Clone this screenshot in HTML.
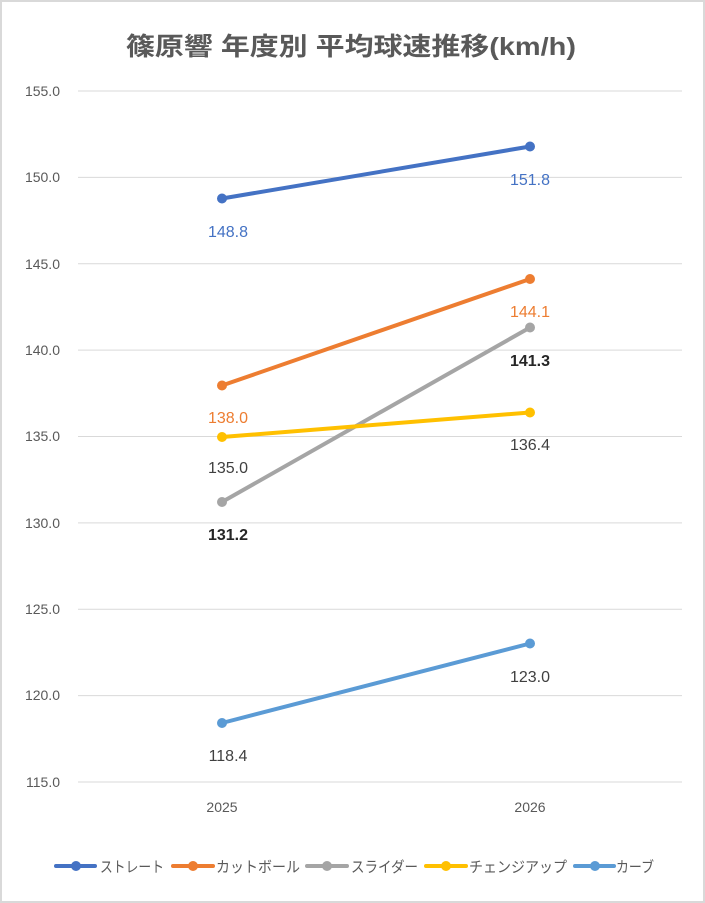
<!DOCTYPE html>
<html><head><meta charset="utf-8"><style>
html,body{margin:0;padding:0;background:#fff;}
svg{display:block;}
text{font-family:"Liberation Sans","Noto Sans CJK JP",sans-serif;}
</style></head><body>
<svg width="705" height="903" viewBox="0 0 705 903" xmlns="http://www.w3.org/2000/svg">
<rect x="1" y="1" width="703" height="901" fill="#fff" stroke="#d9d9d9" stroke-width="2"/>
<text x="126" y="55" font-size="25" font-weight="bold" fill="#595959" textLength="450" lengthAdjust="spacingAndGlyphs">篠原響 年度別 平均球速推移(km/h)</text>
<g stroke="#d9d9d9" stroke-width="1">
<line x1="78" y1="91" x2="682" y2="91"/><line x1="78" y1="177.4" x2="682" y2="177.4"/>
<line x1="78" y1="263.8" x2="682" y2="263.8"/><line x1="78" y1="350.1" x2="682" y2="350.1"/>
<line x1="78" y1="436.5" x2="682" y2="436.5"/><line x1="78" y1="522.9" x2="682" y2="522.9"/>
<line x1="78" y1="609.3" x2="682" y2="609.3"/><line x1="78" y1="695.6" x2="682" y2="695.6"/>
<line x1="78" y1="782" x2="682" y2="782"/>
</g>
<g font-size="14" fill="#595959" text-anchor="end">
<text x="60" y="96">155.0</text><text x="60" y="182">150.0</text><text x="60" y="269">145.0</text>
<text x="60" y="355">140.0</text><text x="60" y="441">135.0</text><text x="60" y="528">130.0</text>
<text x="60" y="614">125.0</text><text x="60" y="700">120.0</text><text x="60" y="787">115.0</text>
</g>
<g font-size="14" fill="#595959" text-anchor="middle">
<text x="222" y="812">2025</text><text x="530" y="812">2026</text>
</g>
<g stroke-width="4" fill="none" stroke-linecap="round">
<line x1="222" y1="198.5" x2="530" y2="146.5" stroke="#4472C4"/>
<line x1="222" y1="385.5" x2="530" y2="279" stroke="#ED7D31"/>
<line x1="222" y1="502" x2="530" y2="327.5" stroke="#A5A5A5"/>
<line x1="222" y1="437" x2="530" y2="412.5" stroke="#FFC000"/>
<line x1="222" y1="723" x2="530" y2="643.5" stroke="#5B9BD5"/>
</g>
<g>
<circle cx="222" cy="198.5" r="5" fill="#4472C4"/><circle cx="530" cy="146.5" r="5" fill="#4472C4"/>
<circle cx="222" cy="385.5" r="5" fill="#ED7D31"/><circle cx="530" cy="279" r="5" fill="#ED7D31"/>
<circle cx="222" cy="502" r="5" fill="#A5A5A5"/><circle cx="530" cy="327.5" r="5" fill="#A5A5A5"/>
<circle cx="222" cy="437" r="5" fill="#FFC000"/><circle cx="530" cy="412.5" r="5" fill="#FFC000"/>
<circle cx="222" cy="723" r="5" fill="#5B9BD5"/><circle cx="530" cy="643.5" r="5" fill="#5B9BD5"/>
</g>
<g font-size="16" text-anchor="middle">
<text x="228" y="237" fill="#4472C4">148.8</text><text x="530" y="185" fill="#4472C4">151.8</text>
<text x="228" y="423" fill="#ED7D31">138.0</text><text x="530" y="317" fill="#ED7D31">144.1</text>
<text x="228" y="540" fill="#262626" font-weight="bold">131.2</text><text x="530" y="366" fill="#262626" font-weight="bold">141.3</text>
<text x="228" y="473" fill="#404040">135.0</text><text x="530" y="450" fill="#404040">136.4</text>
<text x="228" y="761" fill="#404040">118.4</text><text x="530" y="682" fill="#404040">123.0</text>
</g>
<g stroke-width="4" stroke-linecap="round">
<line x1="56" y1="866" x2="95" y2="866" stroke="#4472C4"/>
<line x1="173" y1="866" x2="213" y2="866" stroke="#ED7D31"/>
<line x1="307" y1="866" x2="347" y2="866" stroke="#A5A5A5"/>
<line x1="426" y1="866" x2="466" y2="866" stroke="#FFC000"/>
<line x1="575" y1="866" x2="614" y2="866" stroke="#5B9BD5"/>
</g>
<circle cx="76" cy="866" r="5" fill="#4472C4"/><circle cx="193" cy="866" r="5" fill="#ED7D31"/>
<circle cx="327" cy="866" r="5" fill="#A5A5A5"/><circle cx="446" cy="866" r="5" fill="#FFC000"/>
<circle cx="595" cy="866" r="5" fill="#5B9BD5"/>
<g font-size="15" fill="#595959" lengthAdjust="spacingAndGlyphs">
<text x="100" y="872" textLength="64" lengthAdjust="spacingAndGlyphs">ストレート</text>
<text x="216" y="872" textLength="84" lengthAdjust="spacingAndGlyphs">カットボール</text>
<text x="351" y="872" textLength="67" lengthAdjust="spacingAndGlyphs">スライダー</text>
<text x="469" y="872" textLength="98" lengthAdjust="spacingAndGlyphs">チェンジアップ</text>
<text x="616" y="872" textLength="38" lengthAdjust="spacingAndGlyphs">カーブ</text>
</g>
</svg>
</body></html>
